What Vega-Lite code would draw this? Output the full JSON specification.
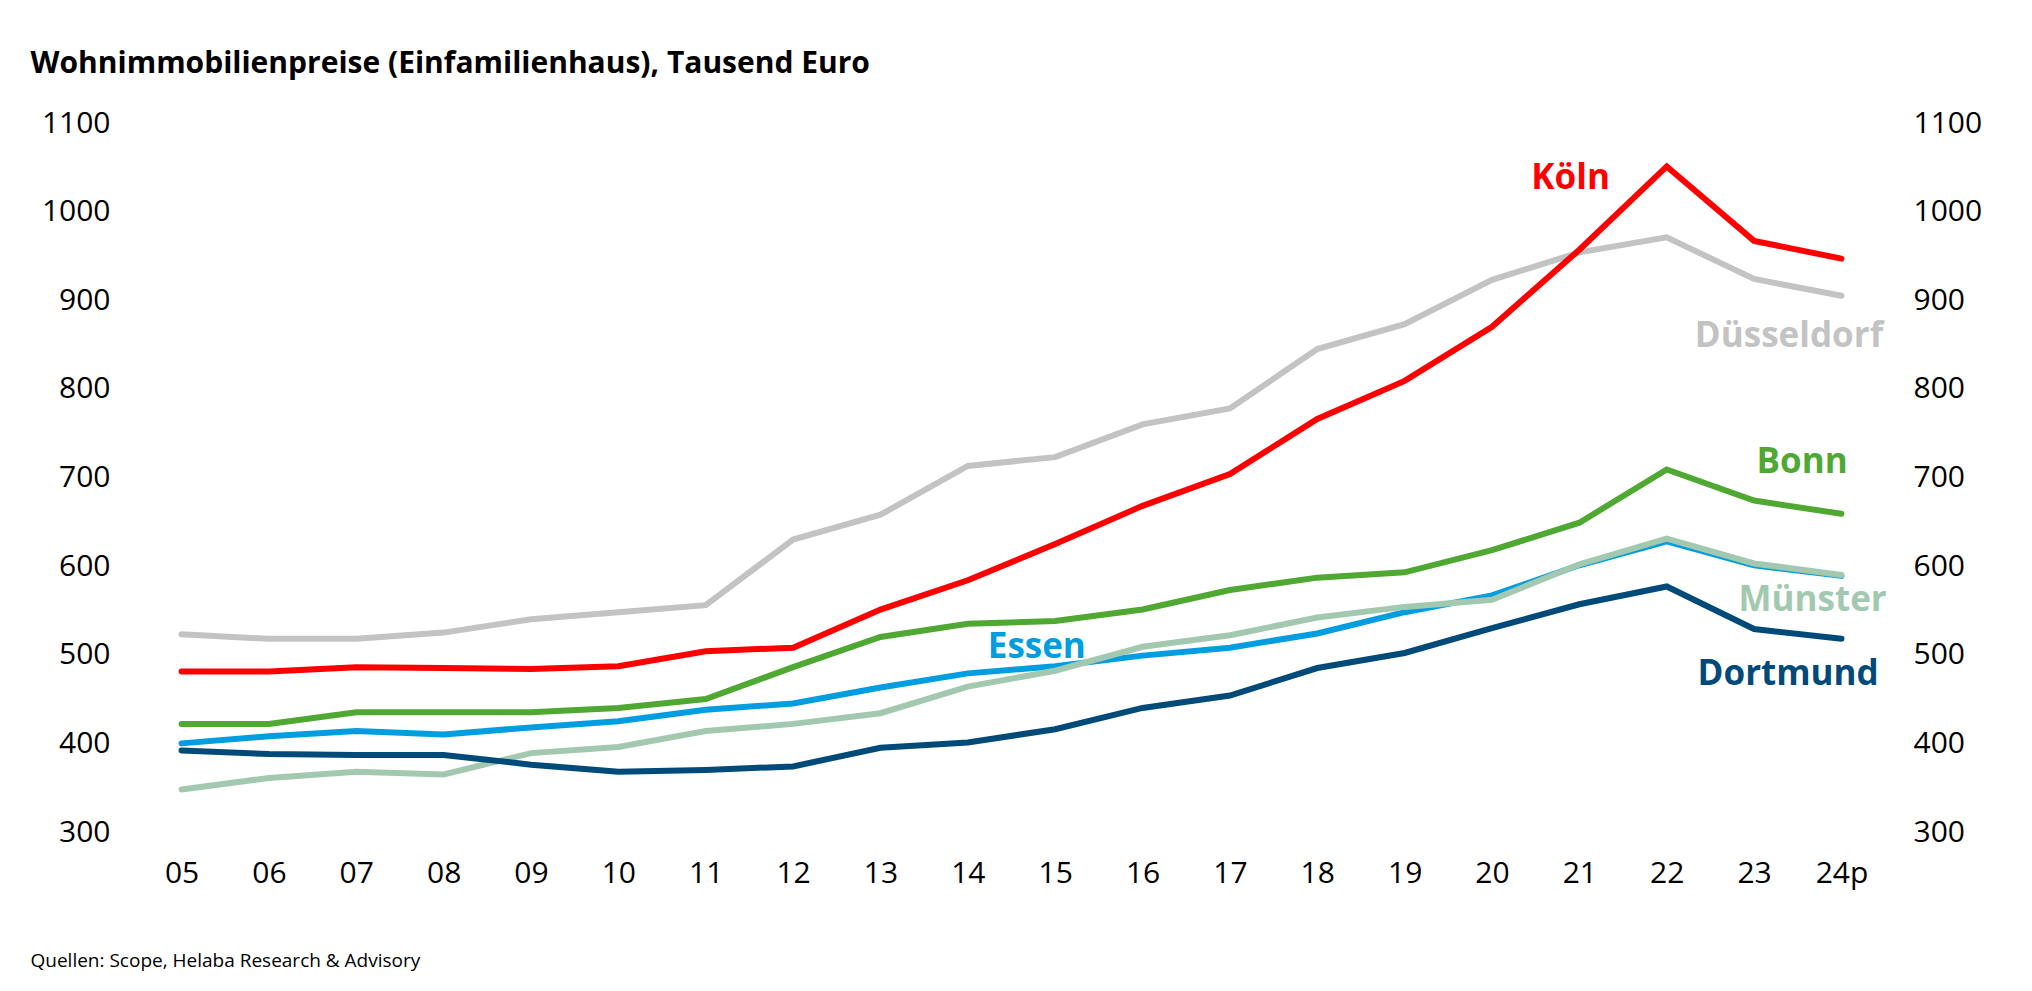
{
  "$schema": "https://vega.github.io/schema/vega-lite/v6.json",
  "width": 1763,
  "height": 709,
  "autosize": {"type": "none"},
  "padding": {"left": 130, "top": 123, "right": 139, "bottom": 159},
  "background": "white",
  "config": {"view": {"stroke": null}, "font": "Open Sans"},
  "datasets": {
    "prices": [
      {"city": "Düsseldorf", "year": 5, "value": 523}, {"city": "Düsseldorf", "year": 6, "value": 518}, {"city": "Düsseldorf", "year": 7, "value": 518}, {"city": "Düsseldorf", "year": 8, "value": 525}, {"city": "Düsseldorf", "year": 9, "value": 540}, {"city": "Düsseldorf", "year": 10, "value": 548}, {"city": "Düsseldorf", "year": 11, "value": 556}, {"city": "Düsseldorf", "year": 12, "value": 630}, {"city": "Düsseldorf", "year": 13, "value": 658}, {"city": "Düsseldorf", "year": 14, "value": 713}, {"city": "Düsseldorf", "year": 15, "value": 723}, {"city": "Düsseldorf", "year": 16, "value": 760}, {"city": "Düsseldorf", "year": 17, "value": 778}, {"city": "Düsseldorf", "year": 18, "value": 845}, {"city": "Düsseldorf", "year": 19, "value": 873}, {"city": "Düsseldorf", "year": 20, "value": 923}, {"city": "Düsseldorf", "year": 21, "value": 954}, {"city": "Düsseldorf", "year": 22, "value": 971}, {"city": "Düsseldorf", "year": 23, "value": 924}, {"city": "Düsseldorf", "year": 24, "value": 905},
      {"city": "Essen", "year": 5, "value": 400}, {"city": "Essen", "year": 6, "value": 408}, {"city": "Essen", "year": 7, "value": 414}, {"city": "Essen", "year": 8, "value": 410}, {"city": "Essen", "year": 9, "value": 418}, {"city": "Essen", "year": 10, "value": 425}, {"city": "Essen", "year": 11, "value": 438}, {"city": "Essen", "year": 12, "value": 445}, {"city": "Essen", "year": 13, "value": 463}, {"city": "Essen", "year": 14, "value": 479}, {"city": "Essen", "year": 15, "value": 487}, {"city": "Essen", "year": 16, "value": 499}, {"city": "Essen", "year": 17, "value": 508}, {"city": "Essen", "year": 18, "value": 524}, {"city": "Essen", "year": 19, "value": 548}, {"city": "Essen", "year": 20, "value": 567}, {"city": "Essen", "year": 21, "value": 601}, {"city": "Essen", "year": 22, "value": 628}, {"city": "Essen", "year": 23, "value": 601}, {"city": "Essen", "year": 24, "value": 589},
      {"city": "Münster", "year": 5, "value": 348}, {"city": "Münster", "year": 6, "value": 361}, {"city": "Münster", "year": 7, "value": 368}, {"city": "Münster", "year": 8, "value": 365}, {"city": "Münster", "year": 9, "value": 389}, {"city": "Münster", "year": 10, "value": 396}, {"city": "Münster", "year": 11, "value": 414}, {"city": "Münster", "year": 12, "value": 422}, {"city": "Münster", "year": 13, "value": 434}, {"city": "Münster", "year": 14, "value": 464}, {"city": "Münster", "year": 15, "value": 482}, {"city": "Münster", "year": 16, "value": 509}, {"city": "Münster", "year": 17, "value": 522}, {"city": "Münster", "year": 18, "value": 542}, {"city": "Münster", "year": 19, "value": 554}, {"city": "Münster", "year": 20, "value": 562}, {"city": "Münster", "year": 21, "value": 602}, {"city": "Münster", "year": 22, "value": 631}, {"city": "Münster", "year": 23, "value": 603}, {"city": "Münster", "year": 24, "value": 590},
      {"city": "Dortmund", "year": 5, "value": 392}, {"city": "Dortmund", "year": 6, "value": 388}, {"city": "Dortmund", "year": 7, "value": 387}, {"city": "Dortmund", "year": 8, "value": 387}, {"city": "Dortmund", "year": 9, "value": 376}, {"city": "Dortmund", "year": 10, "value": 368}, {"city": "Dortmund", "year": 11, "value": 370}, {"city": "Dortmund", "year": 12, "value": 374}, {"city": "Dortmund", "year": 13, "value": 395}, {"city": "Dortmund", "year": 14, "value": 401}, {"city": "Dortmund", "year": 15, "value": 416}, {"city": "Dortmund", "year": 16, "value": 440}, {"city": "Dortmund", "year": 17, "value": 454}, {"city": "Dortmund", "year": 18, "value": 485}, {"city": "Dortmund", "year": 19, "value": 502}, {"city": "Dortmund", "year": 20, "value": 530}, {"city": "Dortmund", "year": 21, "value": 557}, {"city": "Dortmund", "year": 22, "value": 577}, {"city": "Dortmund", "year": 23, "value": 529}, {"city": "Dortmund", "year": 24, "value": 518},
      {"city": "Bonn", "year": 5, "value": 422}, {"city": "Bonn", "year": 6, "value": 422}, {"city": "Bonn", "year": 7, "value": 435}, {"city": "Bonn", "year": 8, "value": 435}, {"city": "Bonn", "year": 9, "value": 435}, {"city": "Bonn", "year": 10, "value": 440}, {"city": "Bonn", "year": 11, "value": 450}, {"city": "Bonn", "year": 12, "value": 486}, {"city": "Bonn", "year": 13, "value": 520}, {"city": "Bonn", "year": 14, "value": 535}, {"city": "Bonn", "year": 15, "value": 538}, {"city": "Bonn", "year": 16, "value": 551}, {"city": "Bonn", "year": 17, "value": 573}, {"city": "Bonn", "year": 18, "value": 587}, {"city": "Bonn", "year": 19, "value": 593}, {"city": "Bonn", "year": 20, "value": 618}, {"city": "Bonn", "year": 21, "value": 649}, {"city": "Bonn", "year": 22, "value": 709}, {"city": "Bonn", "year": 23, "value": 674}, {"city": "Bonn", "year": 24, "value": 659},
      {"city": "Köln", "year": 5, "value": 481}, {"city": "Köln", "year": 6, "value": 481}, {"city": "Köln", "year": 7, "value": 486}, {"city": "Köln", "year": 8, "value": 485}, {"city": "Köln", "year": 9, "value": 484}, {"city": "Köln", "year": 10, "value": 487}, {"city": "Köln", "year": 11, "value": 504}, {"city": "Köln", "year": 12, "value": 508}, {"city": "Köln", "year": 13, "value": 551}, {"city": "Köln", "year": 14, "value": 584}, {"city": "Köln", "year": 15, "value": 625}, {"city": "Köln", "year": 16, "value": 668}, {"city": "Köln", "year": 17, "value": 704}, {"city": "Köln", "year": 18, "value": 766}, {"city": "Köln", "year": 19, "value": 809}, {"city": "Köln", "year": 20, "value": 870}, {"city": "Köln", "year": 21, "value": 957}, {"city": "Köln", "year": 22, "value": 1051}, {"city": "Köln", "year": 23, "value": 967}, {"city": "Köln", "year": 24, "value": 947}
    ],
    "labels": [
      {"city": "Köln", "year": 20.9, "value": 1026},
      {"city": "Düsseldorf", "year": 23.4, "value": 847},
      {"city": "Bonn", "year": 23.55, "value": 705},
      {"city": "Münster", "year": 23.67, "value": 549},
      {"city": "Essen", "year": 14.79, "value": 496},
      {"city": "Dortmund", "year": 23.39, "value": 466}
    ]
  },
  "layer": [
    {
      "data": {"name": "prices"},
      "mark": {"type": "line", "strokeWidth": 6, "strokeCap": "round", "strokeJoin": "miter"},
      "encoding": {
        "x": {
          "field": "year", "type": "quantitative",
          "scale": {"domain": [4.41, 24.59], "nice": false, "zero": false},
          "axis": {
            "orient": "bottom",
            "values": [5, 6, 7, 8, 9, 10, 11, 12, 13, 14, 15, 16, 17, 18, 19, 20, 21, 22, 23, 24],
            "labelExpr": "datum.value == 24 ? '24p' : (datum.value < 10 ? '0' + datum.value : '' + datum.value)",
            "domain": false, "ticks": false, "grid": false,
            "labelFont": "Open Sans", "labelFontSize": 30, "labelColor": "#000000",
            "labelPadding": 26, "labelFlush": false, "labelOverlap": false,
            "title": "Quellen: Scope, Helaba Research & Advisory",
            "titleX": -100, "titleY": 134, "titleAlign": "left", "titleBaseline": "alphabetic",
            "titleFont": "Open Sans", "titleFontSize": 19,
            "titleFontWeight": "normal", "titleColor": "#000000"
          }
        },
        "y": {
          "field": "value", "type": "quantitative",
          "scale": {"domain": [300, 1100], "nice": false, "zero": false},
          "axis": {
            "orient": "left",
            "values": [300, 400, 500, 600, 700, 800, 900, 1000, 1100],
            "format": "d",
            "domain": false, "ticks": false, "grid": false,
            "labelFont": "Open Sans", "labelFontSize": 30, "labelColor": "#000000",
            "labelPadding": 20, "labelFlush": false, "labelOverlap": false,
            "title": "Wohnimmobilienpreise (Einfamilienhaus), Tausend Euro",
            "titleX": -100, "titleY": -51, "titleAngle": 0, "titleAlign": "left", "titleAnchor": "start",
            "titleBaseline": "alphabetic", "titleFont": "Open Sans", "titleFontSize": 30,
            "titleFontWeight": "bold", "titleColor": "#000000"
          }
        },
        "color": {
          "field": "city", "type": "nominal",
          "scale": {"domain": ["Düsseldorf", "Essen", "Münster", "Dortmund", "Bonn", "Köln"], "range": ["#c3c3c3", "#009ee0", "#a2c9b0", "#004a7a", "#4fa832", "#ff0000"]},
          "legend": null
        }
      }
    },
    {
      "data": {"name": "labels"},
      "mark": {"type": "text", "font": "Open Sans", "fontWeight": "bold", "fontSize": 35, "align": "center", "baseline": "alphabetic"},
      "encoding": {
        "x": {"field": "year", "type": "quantitative"},
        "y": {
          "field": "value", "type": "quantitative",
          "scale": {"domain": [300, 1100], "nice": false, "zero": false},
          "axis": {
            "orient": "right",
            "values": [300, 400, 500, 600, 700, 800, 900, 1000, 1100],
            "format": "d",
            "domain": false, "ticks": false, "grid": false,
            "labelFont": "Open Sans", "labelFontSize": 30, "labelColor": "#000000",
            "labelPadding": 20, "labelFlush": false, "labelOverlap": false,
            "title": null
          }
        },
        "text": {"field": "city", "type": "nominal"},
        "color": {"field": "city", "type": "nominal", "legend": null}
      }
    }
  ],
  "resolve": {"scale": {"y": "independent"}}
}
